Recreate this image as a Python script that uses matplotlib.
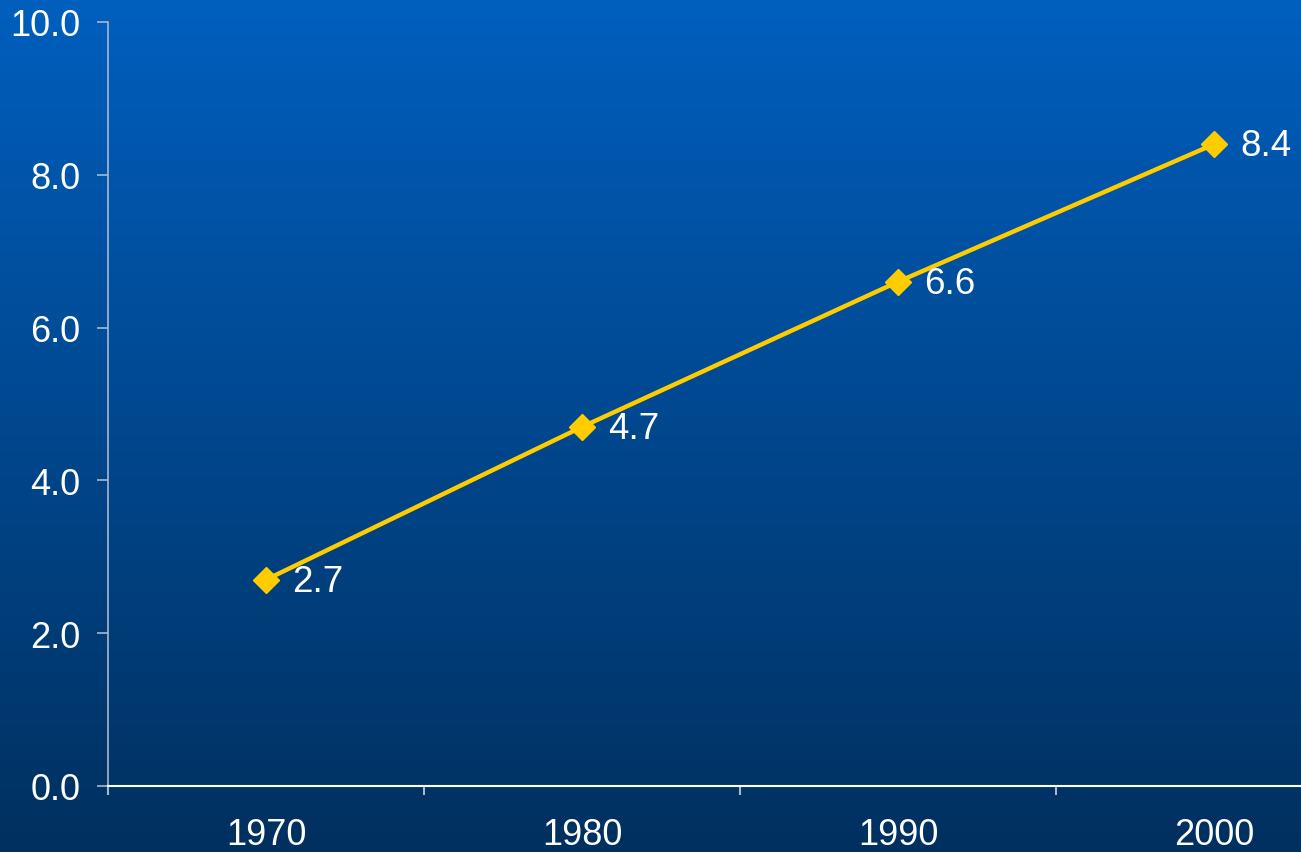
import numpy as np
import matplotlib.pyplot as plt
from matplotlib.colors import LinearSegmentedColormap

# data
years = ["1970", "1980", "1990", "2000"]
values = [2.7, 4.7, 6.6, 8.4]
yticks = [0, 2, 4, 6, 8, 10]

plt.rcParams['font.family'] = ['Liberation Sans', 'DejaVu Sans']

fig = plt.figure(figsize=(13.01, 8.53), dpi=100)

# gradient background
bg = fig.add_axes([0, 0, 1, 1], zorder=0)
cmap = LinearSegmentedColormap.from_list("bg", ["#00305f", "#005fbe"])
bg.imshow(np.linspace(0, 1, 256).reshape(-1, 1), aspect='auto', cmap=cmap,
          origin='lower', extent=[0, 1, 0, 1])
bg.axis('off')

ax = fig.add_axes([108 / 1301, 66 / 853, 1264 / 1301, 764 / 853], zorder=1)
ax.patch.set_alpha(0)

x = np.arange(len(years))
ax.plot(x, values, color='#ffcc00', lw=3.2, marker='D', markersize=13,
        markeredgecolor='#ffcc00', clip_on=False)
for xi, v in zip(x, values):
    ax.annotate(f"{v:.1f}", (xi, v), xytext=(19, -1), textcoords='offset points',
                ha='left', va='center', color='white', fontsize=26.5)

ax.set_xlim(-0.5, 3.5)
ax.set_ylim(0, 10)
ax.set_yticks(yticks)
ax.set_yticklabels([f"{t:.1f}" for t in yticks])
ax.set_xticks(x)
ax.set_xticklabels(years)
ax.set_xticks(np.arange(-0.5, 3.6, 1), minor=True)

ax.tick_params(axis='y', colors='#a8b8d0', labelcolor='white', labelsize=26,
               length=8, width=1.2, pad=12)
ax.tick_params(axis='x', which='major', length=0, labelcolor='white',
               labelsize=26, pad=22)
ax.tick_params(axis='x', which='minor', length=6.5, width=1.5, color='#a8b8d0')

for s in ['top', 'right']:
    ax.spines[s].set_visible(False)
ax.spines['left'].set_color('#a8b8d0')
ax.spines['left'].set_linewidth(1.2)
ax.spines['bottom'].set_color('white')
ax.spines['bottom'].set_linewidth(1.5)

fig.savefig('out.png', dpi=100)
